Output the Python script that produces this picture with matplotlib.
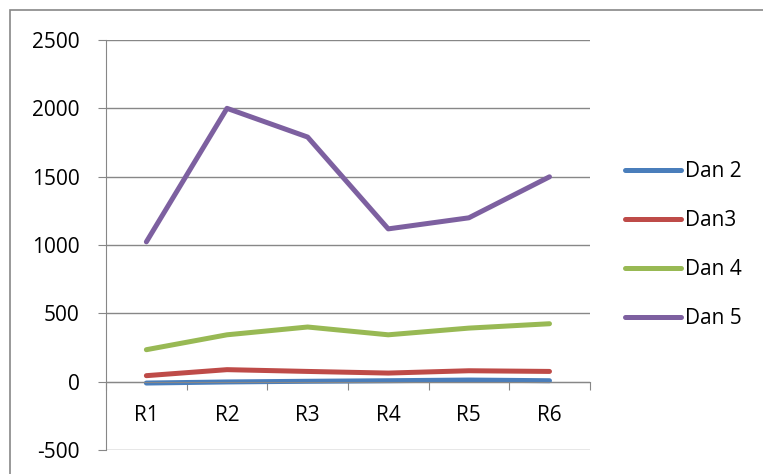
import matplotlib.pyplot as plt
import numpy as np

categories = ["R1", "R2", "R3", "R4", "R5", "R6"]
dan2 = [-10, -2, 3, 7, 12, 7]
dan3 = [44, 88, 75, 63, 80, 75]
dan4 = [234, 343, 400, 343, 392, 424]
dan5 = [1023, 2000, 1790, 1118, 1199, 1499]

series = ["Dan 2", "Dan3", "Dan 4", "Dan 5"]
colors = ["#4A7EBB", "#BE4B48", "#98B954", "#7D60A0"]

plt.rcParams['font.family'] = ['Open Sans', 'DejaVu Sans']
plt.rcParams['axes.unicode_minus'] = False

fig = plt.figure(figsize=(7.63, 4.74), dpi=100)
ax = fig.add_axes([0.139, 0.0506, 0.634, 0.865])

x = np.arange(len(categories))
for vals, name, c in zip([dan2, dan3, dan4, dan5], series, colors):
    ax.plot(x, vals, color=c, lw=3.6, label=name, solid_capstyle='round', solid_joinstyle='round')

ax.set_xlim(-0.5, len(categories) - 0.5)
ax.set_ylim(-500, 2500)
ax.set_yticks(range(-500, 2501, 500))
ax.yaxis.grid(True, color="#878787", lw=1)
ax.set_axisbelow(True)

for s in ["top", "right"]:
    ax.spines[s].set_visible(False)
ax.spines["left"].set_color("#878787")
ax.spines["bottom"].set_color("#878787")
ax.spines["bottom"].set_position(("data", 0))

ax.set_xticks(np.arange(-0.5, len(categories), 1))
ax.set_xticklabels([])
ax.set_xticks(x, minor=True)
ax.set_xticklabels(categories, minor=True)
ax.tick_params(axis="x", which="major", direction="out", length=6, color="#878787")
ax.tick_params(axis="x", which="minor", length=0, pad=17, labelsize=15)
ax.tick_params(axis="y", direction="out", length=6, color="#878787", labelsize=15, pad=13)

ax.legend(loc="center left", bbox_to_anchor=(1.055, 0.5), frameon=False, fontsize=15,
          handlelength=2.7, handletextpad=0.2, labelspacing=1.35, borderaxespad=0)

fig.patches.append(plt.Rectangle((0.0135, -0.1), 1.2, 1.079, transform=fig.transFigure,
                                 fill=False, edgecolor="#878787", lw=1.2))

fig.savefig("out.png", dpi=100)
